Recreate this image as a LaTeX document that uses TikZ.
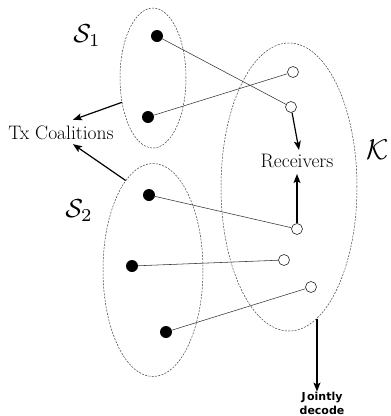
\documentclass[tikz,border=0pt]{standalone}
\usepackage{fontspec}
\newfontfamily\jdfont{DejaVu Sans}
\usetikzlibrary{positioning, arrows.meta, shapes.geometric, calc}

\begin{document}
\begin{tikzpicture}[x=1pt, y=-1pt,
        coal/.style={ellipse, draw=black!75, dash pattern=on 2pt off 1.3pt, line width=0.5pt, inner sep=0pt},
        tx/.style={circle, fill=black, minimum size=12pt, inner sep=0pt},
        rx/.style={circle, draw=black!85, fill=white, line width=0.6pt, minimum size=11pt, inner sep=0pt},
        link/.style={draw=black!80, line width=0.55pt},
        arr/.style={-{Stealth[length=9pt, width=7pt, inset=2pt]}, line width=1.2pt},
        setname/.style={scale=2.6, inner sep=0pt},
        txt/.style={font=\fontsize{19.5}{22}\selectfont, inner sep=1pt}]
        \useasboundingbox (0,0) rectangle (391,416);
        % coalitions and receiver set
        \node[coal, minimum width=66pt, minimum height=140pt]  (S1) at (153,78)  {};
        \node[coal, minimum width=100pt, minimum height=213pt] (S2) at (153,270) {};
        \node[coal, minimum width=136pt, minimum height=288pt] (K)  at (289,187) {};
        \node[setname] at (87,36)  {$\mathcal{S}_1$};
        \node[setname] at (79,211) {$\mathcal{S}_2$};
        \node[setname, scale=1.1] at (378,150) {$\mathcal{K}$};
        % transmitters and receivers
        \foreach \n/\x/\y in {1/157/36, 2/148/117, 3/149/195, 4/132/266, 5/166/332} {
            \node[tx] (t\n) at (\x,\y) {};
        }
        \foreach \n/\x/\y in {1/293/72, 2/291/107, 3/297/229, 4/284/260, 5/311/287} {
            \node[rx] (r\n) at (\x,\y) {};
        }
        \foreach \a/\b in {1/2, 2/1, 3/3, 4/4, 5/5} {
            \draw[link] (t\a) -- (r\b);
        }
        % labels
        \node[txt] (coalitions) at (61,133) {Tx Coalitions};
        \node[txt] (receivers) at (297,161) {Receivers};
        \node[font=\jdfont\bfseries\fontsize{11}{14}\selectfont, align=center, inner sep=0pt] (decode) at (322,403) {J\hspace{1.5pt}ointly\\decode};
        \draw[arr] (S1.218) -- ([shift={(12,-5)}]coalitions.north);
        \draw[arr] (S2.107) -- ([shift={(12,3)}]coalitions.south);
        \draw[arr] (r2) -- ([shift={(2,-3)}]receivers.north);
        \draw[arr] (r3) -- ([yshift=-5pt]receivers.south);
        \draw[arr] (K.282) -- (K.282 |- decode.north);
\end{tikzpicture}
\end{document}
